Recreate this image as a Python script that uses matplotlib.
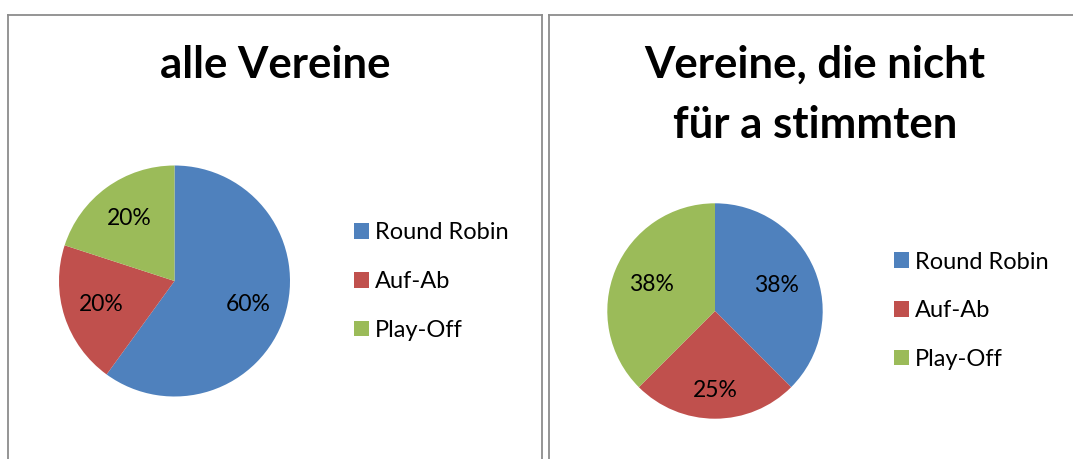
import numpy as np
import matplotlib
matplotlib.use("Agg")
import matplotlib.pyplot as plt
from matplotlib.patches import Patch
from matplotlib.lines import Line2D

plt.rcParams['font.family'] = ['Lato', 'DejaVu Sans']

# Daten
categories = ["Round Robin", "Auf-Ab", "Play-Off"]
alle_vereine = [60, 20, 20]
nicht_fuer_a = [37.5, 25, 37.5]
titles = ["alle Vereine", "Vereine, die nicht\nfür a stimmten"]
colors = ["#4F81BD", "#C0504D", "#9BBB59"]

W, H = 1073, 459
fig = plt.figure(figsize=(W / 100, H / 100), dpi=100)

TITLE_SIZE = 31.5
TEXT_SIZE = 16.5
LEGEND_SIZE = 17


def px_axes(cx, cy, r):
    """Achse in Pixelkoordinaten (Ursprung oben links) anlegen."""
    return fig.add_axes([(cx - r) / W, (H - cy - r) / H, 2 * r / W, 2 * r / H])


def draw_pie(ax, values, label_dist):
    wedges, _, autotexts = ax.pie(values, colors=colors, startangle=90,
                                  counterclock=False, autopct='%.0f%%',
                                  wedgeprops=dict(linewidth=0),
                                  textprops=dict(fontsize=TEXT_SIZE, color='black'))
    # Beschriftungen wie in Excel positionieren
    for w, t, d in zip(wedges, autotexts, label_dist):
        ang = np.deg2rad((w.theta1 + w.theta2) / 2)
        t.set_position((d * np.cos(ang), d * np.sin(ang)))
        t.set_ha('center')
        t.set_va('center')
    ax.set_xlim(-1, 1)
    ax.set_ylim(-1, 1)
    return wedges


# Rahmen der beiden Diagramme
border = dict(color="#8C8C8C", linewidth=1.3, transform=fig.transFigure)
top = 1 - 15 / H
for x in (8 / W, 542 / W):
    fig.add_artist(Line2D([x, x], [0, top], **border))
fig.add_artist(Line2D([8 / W, 542 / W], [top, top], **border))
fig.add_artist(Line2D([549 / W, 549 / W], [0, top], **border))
fig.add_artist(Line2D([549 / W, 1], [top, top], **border))

# Titel (zweizeiliger Titel zeilenweise gesetzt)
fig.text(275 / W, 1 - 77.7 / H, titles[0], ha='center', va='baseline',
         fontsize=TITLE_SIZE, fontweight='bold')
for line, base in zip(titles[1].split("\n"), (78, 138)):
    fig.text(815 / W, 1 - base / H, line, ha='center', va='baseline',
             fontsize=TITLE_SIZE, fontweight='bold')

# linkes Diagramm
ax1 = px_axes(174.5, 281, 115.5)
draw_pie(ax1, alle_vereine, [0.67, 0.67, 0.67])

# rechtes Diagramm
ax2 = px_axes(715, 311, 107.7)
draw_pie(ax2, nicht_fuer_a, [0.62, 0.74, 0.64])

handles = [Patch(facecolor=c, edgecolor='none') for c in colors]
legend_kw = dict(frameon=False, fontsize=LEGEND_SIZE, handlelength=0.64,
                 handleheight=0.64, handletextpad=0.26, labelspacing=1.17,
                 borderpad=0, borderaxespad=0, loc='center left')
fig.legend(handles, categories, bbox_to_anchor=(354 / W, 1 - 281.5 / H), **legend_kw)
fig.legend(handles, categories, bbox_to_anchor=(894 / W, 1 - 310.7 / H), **legend_kw)

fig.savefig("out.png", dpi=100, facecolor='white')
